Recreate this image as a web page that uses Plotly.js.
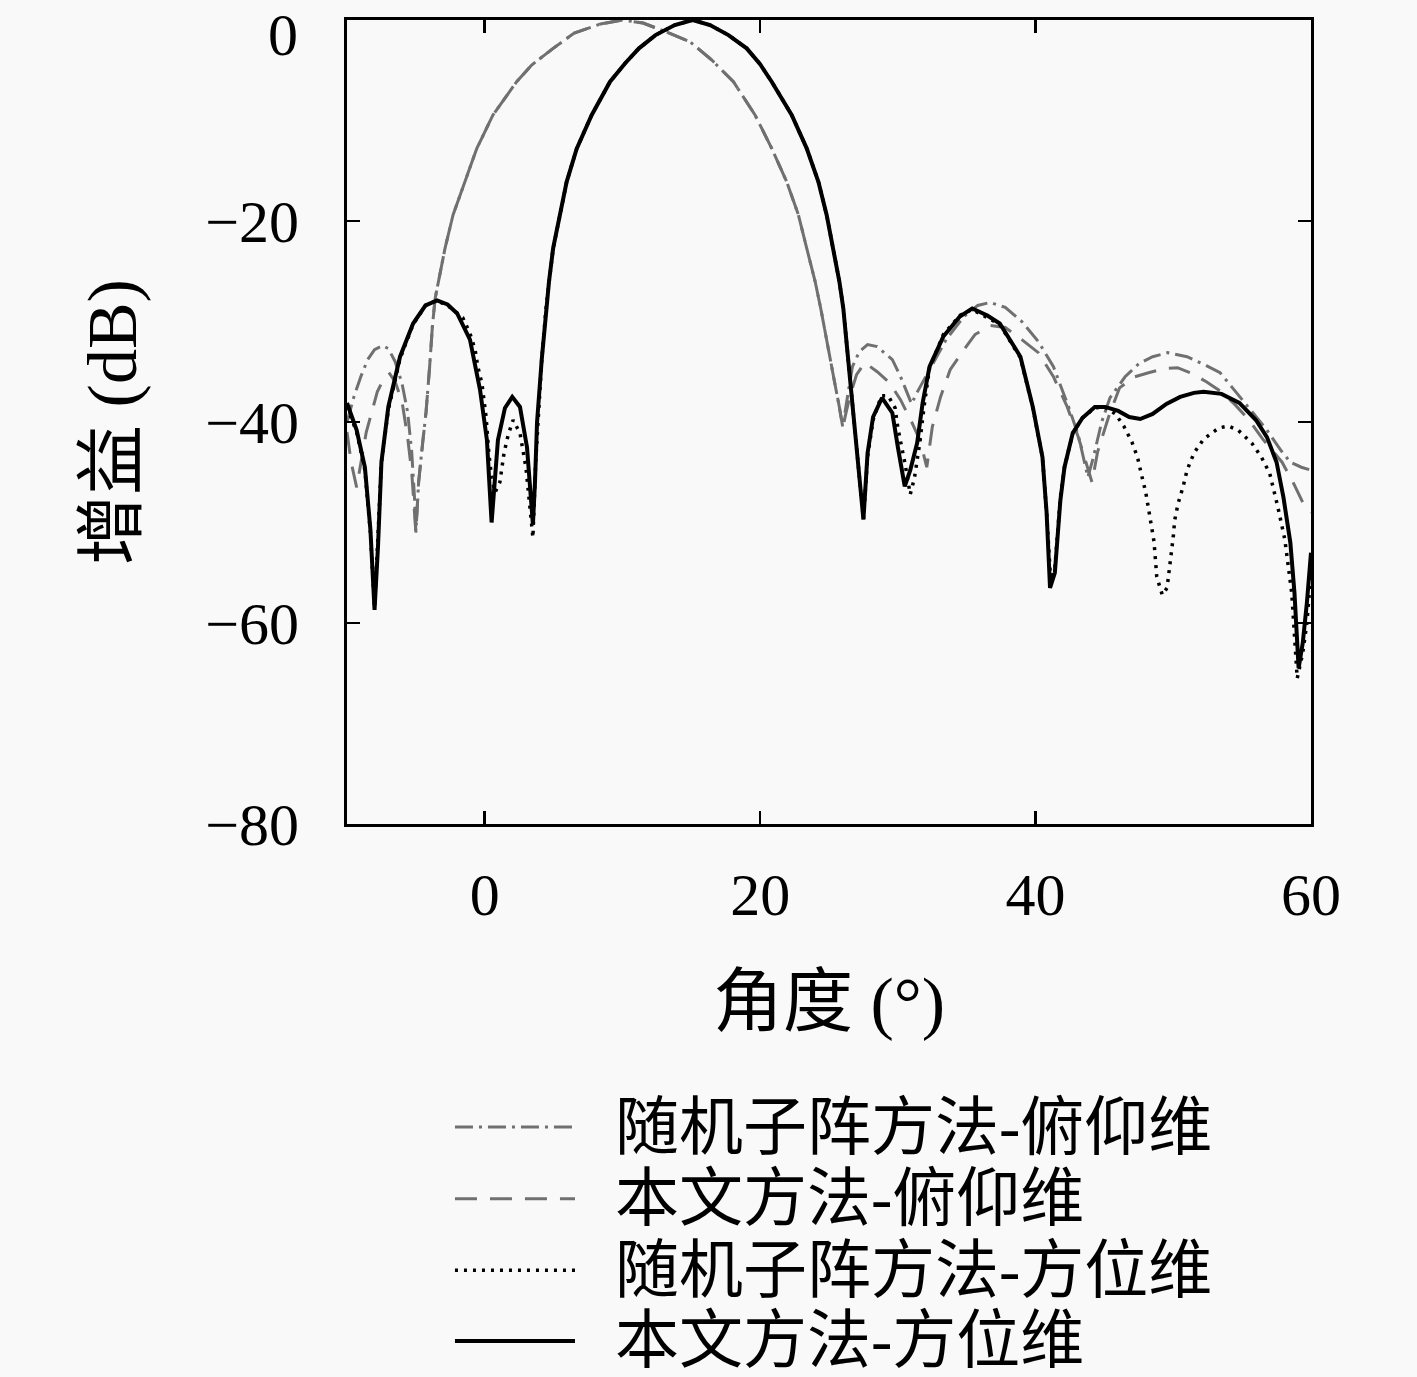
<!DOCTYPE html>
<html>
<head>
<meta charset="utf-8">
<script src="https://cdn.plot.ly/plotly-3.0.1.min.js"></script>
<style>
  html, body { margin: 0; padding: 0; background: #f9f9f9; }
  #chart { width: 1417px; height: 1377px; }
</style>
</head>
<body>
<div id="chart"></div>
<script>
// legend names
const seriesNames = ["随机子阵方法-俯仰维", "本文方法-俯仰维", "随机子阵方法-方位维", "本文方法-方位维"];

// tick values and labels (the top "0" is placed as a note so it stays inside the page)
const xTicks = [0, 20, 40, 60];
const yTicks = [-80, -60, -40, -20, 0];
const yTickText = ["−80", "−60", "−40", "−20", ""];
const yTopLabel = "0";

// 随机子阵方法-俯仰维 (grey dash-dot)
const rsElevX = [-10, -9.5, -9, -8.5, -8, -7.4, -7, -6.5, -6, -5.6, -5.3, -5.1, -5.0,
  -4.8, -4.5, -4.26, -4.0, -3.8, -3.6, -3.37, -2.88, -2.3, -1.43, -0.58, 0.6, 2.32, 3.41, 4.97,
  6.5, 8.4, 10.0, 11.5, 13.2, 14.9, 16.5, 18.06, 19.63, 20.84, 21.93, 22.78, 23.38, 23.99, 24.4,
  24.9, 25.4, 25.75, 26.0,
  26.4, 26.7, 27.2, 27.8, 28.5, 29.6, 30.2, 30.7, 31.0, 31.3, 32.3, 33.5, 34.8, 35.8, 36.7,
  37.8, 39, 40.2, 41.3, 42.4, 43.1, 43.8, 44.2, 44.8, 45.4, 46.5, 47.5, 48.5, 49.6, 51,
  52.4, 53.4, 54.3, 55.2, 56.8, 57.8, 58.5, 59.3, 60];
const rsElevY = [-40, -37.5, -35.5, -33.8, -32.8, -32.4, -32.7, -34, -36.2, -39, -43, -47.5, -51,
  -46, -42, -39, -34.5, -30.5, -27.7, -26.0, -22.7, -19.4, -16.1, -12.8, -9.45, -6.14, -4.48, -2.82,
  -1.3, -0.4, 0, -0.3, -1.2, -2.16, -4.0, -6.14, -9.45, -12.77, -16.1, -19.4, -22.7, -26.0, -28.7,
  -32.5, -36, -38.5, -40.5,
  -37, -34.5, -33, -32.3, -32.5, -33.8, -35.5, -37.3, -38.2, -37.3, -34.8, -31.8, -29.5, -28.4, -28.1,
  -28.6, -30, -32, -34.5, -38.5, -41.3, -45.5, -43.5, -40, -37.6, -35.5, -34.2, -33.5, -33.1, -33.5,
  -34.4, -35.1, -36.6, -38.1, -40.8, -42.8, -44, -44.5, -44.8];

// 本文方法-俯仰维 (grey dashed)
const ourElevX = [-10, -9.7, -9.3, -9.0, -8.6, -8.3, -7.8, -7.3, -6.9, -6.5, -6.0, -5.6, -5.3, -5.0,
  -4.8, -4.5, -4.26, -4.0, -3.8, -3.6, -3.37, -2.88, -2.3, -1.43, -0.58, 0.6, 2.32, 3.41, 4.97,
  6.5, 8.4, 10.0, 11.5, 13.2, 14.9, 16.5, 18.06, 19.63, 20.84, 21.93, 22.78, 23.38, 23.99, 24.4,
  24.9, 25.4, 25.75, 26.0,
  26.5, 27.0, 27.6, 28.5, 29.4, 30.2, 31.0, 31.6, 32.1, 32.5, 33.1, 33.8, 34.7, 35.6, 36.7,
  37.8, 39, 40.2, 41.3, 42.3, 43.1, 43.8, 44.1, 44.5, 45.3, 46.1, 47.2, 48.2, 49.3, 50.3,
  51.4, 52.4, 53.5, 54.5, 55.5, 56.5, 57.9, 58.7, 59.4, 60];
const ourElevY = [-41, -44, -46.5, -44, -41, -39.5, -37, -35.6, -35.2, -36, -38, -41.5, -45, -51,
  -46, -42, -39, -34.5, -30.5, -27.7, -26.0, -22.7, -19.4, -16.1, -12.8, -9.45, -6.14, -4.48, -2.82,
  -1.3, -0.4, 0, -0.3, -1.2, -2.16, -4.0, -6.14, -9.45, -12.77, -16.1, -19.4, -22.7, -26.0, -28.7,
  -32.5, -36, -38.5, -40.5,
  -37.5, -35.3, -34.1, -35, -36.1, -37.8, -40, -41.8, -44.5, -40.5, -37.5, -34.8, -33, -31.3, -30.4,
  -30.6, -31.8, -33.1, -35.5, -38.5, -41.5, -44.5, -46, -43, -39.5, -36.6, -35.5, -35.1, -34.7, -34.6,
  -35.2, -36, -37, -38.3, -39.8, -41.7, -44, -46, -48, -49];

// 随机子阵方法-方位维 (black dotted)
const rsAzX = [-10, -9.3, -8.7, -8.3, -8.0, -7.75, -7.5, -7.0, -6.15, -5.2, -4.3, -3.46, -2.5, -1.6,
  -1.07, -0.7, -0.5, -0.2, 0.1, 0.3, 0.5, 0.75, 1.1, 1.4, 1.7, 2.06, 2.56, 3.0, 3.3, 3.5, 3.7, 3.85,
  4.14, 4.45, 4.67, 4.97, 5.47, 5.95, 6.68, 7.77, 9.1, 10.2, 11.2, 12.4, 13.8, 15.1,
  16.36, 17.7, 19.02, 20.0, 20.84, 22.29, 23.38, 24.23, 24.83, 25.32, 25.75, 26.04, 26.4, 26.7,
  27.1, 27.5, 27.8, 28.2, 28.8, 29.3, 29.8, 30.0, 30.5, 30.9, 31.2, 31.6, 31.9, 32.3, 33.3, 34.5,
  35.4, 36.5, 37.4, 38.9, 39.8, 40.5, 40.8, 41.1, 41.4, 41.8, 42.1, 42.7, 43.4, 44.3, 45.0, 45.8,
  46.4, 47.0, 47.4, 47.7, 48.0, 48.2, 48.4, 48.6, 48.8, 49.2, 49.55, 49.7, 50.0, 50.1, 50.35, 50.7,
  51.0, 51.5, 52.2, 53.3, 54.0, 54.7, 55.7, 56.4, 57.0, 57.6, 58.1, 58.6, 59.0, 59.4, 59.7, 60];
const rsAzY = [-38.5, -41, -44.8, -51, -58.5, -52, -44, -38.8, -33.7, -30.3, -28.4, -27.9, -28.6, -29.6,
  -31.2, -32.8, -34.5, -36.2, -39.5, -43.1, -45.5, -47, -46, -43.1, -41.3, -39.8, -41.1, -44.6, -48.5, -51.5, -44, -40,
  -33.8, -28.7, -26.0, -22.7, -19.4, -16.1, -12.8, -9.45, -6.14, -4.3, -2.82, -1.5, -0.5, 0,
  -0.5, -1.5, -2.82, -4.4, -6.14, -9.45, -12.77, -16.1, -19.4, -22.7, -26.0, -28.7, -33.8, -38,
  -44, -49.7, -43.5, -39.8, -37.4, -37.4, -38.6, -40.6, -44, -47.2, -45.6, -42, -38.5, -34.6, -31.3, -29.4,
  -28.8, -29.6, -30.3, -33.6, -38.6, -43.5, -49, -55.8, -54.5, -47.5, -44.5, -41.1, -39.6, -38.6, -38.5, -39.2,
  -40.4, -42, -43.5, -45.3, -47, -48.6, -50.2, -51.9, -55.4, -57.2, -56.5, -54.9, -51.4, -49.8, -48.1, -46.5,
  -44.8, -43.1, -41.7, -40.6, -40.4, -40.8, -42.1, -43.5, -45.1, -48.5, -51.7, -57, -65.5, -63, -60, -55];

// 本文方法-方位维 (black solid)
const ourAzX = [-10, -9.3, -8.7, -8.3, -8.0, -7.75, -7.5, -7.0, -6.15, -5.2, -4.3, -3.46, -2.7, -2.0,
  -1.07, -0.34, 0.16, 0.5, 0.96, 1.47, 2.0, 2.56, 3.07, 3.5, 3.65, 3.8,
  4.14, 4.45, 4.67, 4.97, 5.47, 5.95, 6.68, 7.77, 9.1, 10.2, 11.2, 12.4, 13.8, 15.1,
  16.36, 17.7, 19.02, 20.0, 20.84, 22.29, 23.38, 24.23, 24.83, 25.32, 25.75, 26.04, 26.4, 26.7,
  27.1, 27.5, 27.8, 28.2, 28.85, 29.6, 30.0, 30.5, 30.9, 31.4, 31.8, 32.3, 33.3, 34.5,
  35.4, 36.5, 37.4, 38.9, 39.8, 40.5, 40.8, 41.05, 41.4, 41.8, 42.1, 42.7, 43.4, 44.3, 45.05, 46.0,
  46.8, 47.6, 48.5, 49.5, 50.5, 51.5, 52.2, 53.5, 54.8, 56.0, 56.8, 57.5, 58.0, 58.5, 58.8, 59.1,
  59.4, 59.7, 60];
const ourAzY = [-38.1, -40.8, -44.5, -50.7, -58.7, -52.4, -44, -38.5, -33.5, -30.2, -28.4, -27.9, -28.3, -29.2,
  -31.8, -36.8, -41.8, -50, -41.8, -38.6, -37.5, -38.5, -42.5, -50.2, -46, -40,
  -33.8, -28.7, -26.0, -22.7, -19.4, -16.1, -12.8, -9.45, -6.14, -4.3, -2.82, -1.5, -0.5, 0,
  -0.5, -1.5, -2.82, -4.4, -6.14, -9.45, -12.77, -16.1, -19.4, -22.7, -26.0, -28.7, -33.8, -38,
  -44, -49.7, -43.1, -39.5, -37.6, -39.1, -42.5, -46.4, -44.8, -42.1, -38.1, -34.5, -31.5, -29.5,
  -28.7, -29.4, -30.2, -33.5, -38.5, -43.5, -49, -56.5, -55, -47.8, -44.5, -41.1, -39.6, -38.5, -38.5, -38.9,
  -39.5, -39.7, -39.2, -38.2, -37.5, -37.1, -37.0, -37.2, -38.1, -39.8, -41.5, -44, -47.5, -52, -57, -64.5,
  -62, -58, -53];

const grey = "rgb(112,112,112)";
const CJK = "Liberation Serif, Noto Sans CJK SC";

const traces = [
  { x: rsElevX, y: rsElevY, name: seriesNames[0], mode: "lines", type: "scatter",
    line: { color: grey, width: 3, dash: "18px,6px,3px,6px" } },
  { x: ourElevX, y: ourElevY, name: seriesNames[1], mode: "lines", type: "scatter",
    line: { color: grey, width: 3, dash: "22px,13px" } },
  { x: rsAzX, y: rsAzY, name: seriesNames[2], mode: "lines", type: "scatter",
    line: { color: "#000", width: 3.5, dash: "3px,6px" } },
  { x: ourAzX, y: ourAzY, name: seriesNames[3], mode: "lines", type: "scatter",
    line: { color: "#000", width: 4 } }
];

// legend drawn by hand below the axes so the line samples can be long
const legendRowsY = [-0.377, -0.466, -0.555, -0.643];
const legendShapes = traces.map((t, i) => ({
  type: "line", xref: "paper", yref: "paper",
  x0: 0.112, x1: 0.2365, y0: legendRowsY[i], y1: legendRowsY[i],
  line: { color: t.line.color, width: t.line.width, dash: t.line.dash || "solid" }
}));
const legendLabels = traces.map((t, i) => ({
  xref: "paper", yref: "paper", x: 0.276, y: legendRowsY[i],
  xanchor: "left", yanchor: "middle", showarrow: false,
  text: t.name, font: { family: CJK, size: 64, color: "#000" }
}));

// top y label, nudged down like in the original so it is not cut by the page edge
const topLabel = {
  xref: "paper", yref: "paper", x: 0, y: 1, xanchor: "right", yanchor: "top",
  xshift: -47, yshift: 20, showarrow: false, text: yTopLabel,
  font: { family: "Liberation Serif", size: 60, color: "#000" }
};

const axisCommon = {
  showgrid: false, zeroline: false,
  showline: true, linecolor: "#000", linewidth: 3, mirror: "ticks",
  ticks: "inside", ticklen: 13, tickwidth: 2.5, tickcolor: "#000",
  tickfont: { family: "Liberation Serif", size: 60, color: "#000" }
};

const layout = {
  width: 1417, height: 1377,
  paper_bgcolor: "#f9f9f9", plot_bgcolor: "#f9f9f9",
  margin: { l: 347, r: 106, t: 20, b: 553, autoexpand: false },
  font: { family: CJK, size: 60, color: "#000" },
  showlegend: false,
  xaxis: Object.assign({}, axisCommon, {
    range: [-10, 60], tickmode: "array", tickvals: xTicks, ticklabelstandoff: 16,
    title: { text: "角度 (°)", standoff: 50, font: { family: CJK, size: 70 } }
  }),
  yaxis: Object.assign({}, axisCommon, {
    range: [-80, 0], tickmode: "array", tickvals: yTicks, ticktext: yTickText, ticklabelstandoff: 33,
    title: { text: "增益 (dB)", standoff: 46, font: { family: CJK, size: 70 } }
  }),
  shapes: legendShapes,
  annotations: legendLabels.concat([topLabel])
};

Plotly.newPlot("chart", traces, layout, { displayModeBar: false, staticPlot: true });
</script>
</body>
</html>
